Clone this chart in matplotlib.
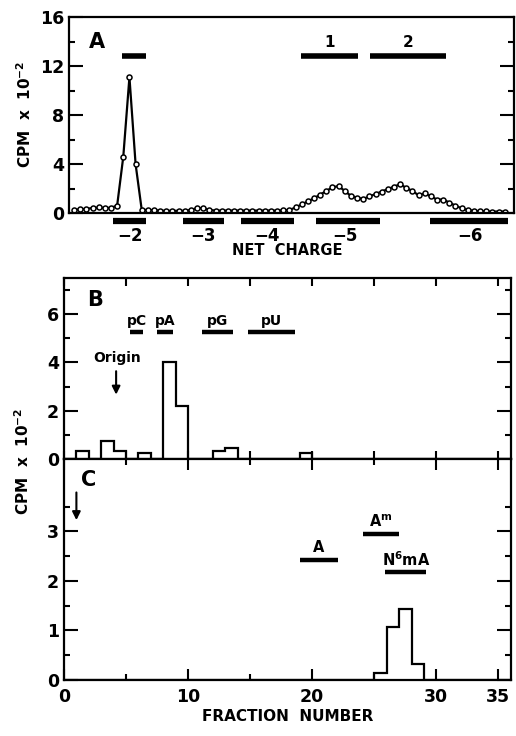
import numpy as np
import matplotlib
matplotlib.use("Agg")
import matplotlib.pyplot as plt
from matplotlib.ticker import MultipleLocator, FixedLocator

plt.rcParams['font.family'] = ['DejaVu Sans']
plt.rcParams['font.weight'] = 'bold'
plt.rcParams['mathtext.default'] = 'bf'

# ---- panel A: charge separation profile (one point per fraction)
cpm_a = [0.27, 0.30, 0.35, 0.40, 0.45, 0.42, 0.42, 0.60, 4.6, 11.1,
         4.0, 0.25, 0.25, 0.22, 0.20, 0.18, 0.18, 0.18, 0.18, 0.25,
         0.40, 0.40, 0.25, 0.20, 0.20, 0.20, 0.20, 0.20, 0.20, 0.20,
         0.20, 0.20, 0.20, 0.20, 0.22, 0.25, 0.45, 0.70, 0.95, 1.20,
         1.50, 1.80, 2.10, 2.20, 1.80, 1.40, 1.25, 1.15, 1.35, 1.55,
         1.75, 1.95, 2.15, 2.35, 2.05, 1.80, 1.45, 1.60, 1.35, 1.10,
         1.10, 0.85, 0.60, 0.38, 0.25, 0.18, 0.15, 0.13, 0.12, 0.12, 0.12]
frac_a = np.arange(1, len(cpm_a) + 1)

charge_labels = ['\u22122', '\u22123', '\u22124', '\u22125', '\u22126']
charge_label_x = [10.1, 22.0, 32.3, 45.0, 65.3]
charge_bars = [(7.3, 12.7), (18.7, 25.4), (28.1, 36.7), (40.3, 50.7), (58.8, 71.5)]
peak_bars = [(8.8, 12.7), (37.9, 47.1), (49.1, 61.4)]
peak_labels = ['', '1', '2']

# ---- panel B: nucleotides
edges = np.arange(0, 37)
cpm_b = np.zeros(36)
b_bins = [1, 3, 4, 6, 8, 9, 12, 13, 19]
b_vals = [0.33, 0.75, 0.35, 0.25, 4.0, 2.2, 0.33, 0.45, 0.25]
cpm_b[b_bins] = b_vals
nuc_labels = ['pC', 'pA', 'pG', 'pU']
nuc_bars = [(5.3, 6.4), (7.5, 8.8), (11.1, 13.6), (14.8, 18.6)]

# ---- panel C: nucleosides
cpm_c = np.zeros(36)
c_bins = [25, 26, 27, 28]
c_vals = [0.14, 1.07, 1.43, 0.33]
cpm_c[c_bins] = c_vals
ns_labels = ['A', 'A$^{m}$', 'N$^{6}$mA']
ns_bars = [(19.0, 22.1), (24.1, 27.0), (25.9, 29.2)]
ns_bar_y = [2.42, 2.94, 2.18]

fig = plt.figure(figsize=(5.16, 7.36), dpi=100)
axA = fig.add_axes([0.134, 0.7106, 0.862, 0.266])
axB = fig.add_axes([0.124, 0.3764, 0.866, 0.246])
axC = fig.add_axes([0.124, 0.0761, 0.866, 0.3003])

for ax in (axA, axB, axC):
    for s in ax.spines.values():
        s.set_linewidth(1.6)
    ax.tick_params(which='both', direction='in', width=1.5, labelsize=12.5,
                   left=True, right=True)
    ax.tick_params(which='major', length=10)
    ax.tick_params(which='minor', length=4)

# panel A
axA.plot(frac_a, cpm_a, '-o', color='k', lw=1.6, ms=3.6, mfc='white', mec='k', mew=1.1)
axA.set_xlim(0.2, 72.5)
axA.set_ylim(0, 16)
axA.yaxis.set_major_locator(MultipleLocator(4))
axA.yaxis.set_minor_locator(MultipleLocator(2))
axA.tick_params(axis='x', which='both', bottom=False, labelbottom=False)
for (x0, x1), lab in zip(charge_bars, charge_labels):
    axA.plot([x0, x1], [-0.68, -0.68], color='k', lw=4.5, solid_capstyle='butt', clip_on=False)
for x, lab in zip(charge_label_x, charge_labels):
    axA.text(x, -1.85, lab, ha='center', va='center', fontsize=12, fontweight='bold', clip_on=False)
for (x0, x1), lab in zip(peak_bars, peak_labels):
    axA.plot([x0, x1], [12.8, 12.8], color='k', lw=4, solid_capstyle='butt')
    if lab:
        axA.text((x0 + x1) / 2, 13.9, lab, ha='center', va='center', fontsize=11, fontweight='bold')
axA.text(4.7, 14.0, 'A', ha='center', va='center', fontsize=15, fontweight='bold')
fig.text(0.556, 0.659, 'NET  CHARGE', ha='center', va='center', fontsize=10.5, fontweight='bold')
fig.text(0.048, 0.845, 'CPM  x  10$^{-2}$', rotation=90, ha='center', va='center',
         fontsize=11, fontweight='bold')

# panel B
axB.stairs(cpm_b, edges, color='k', lw=1.6)
axB.set_xlim(0, 36)
axB.set_ylim(0, 7.5)
axB.yaxis.set_major_locator(MultipleLocator(2))
axB.yaxis.set_minor_locator(MultipleLocator(1))
axB.xaxis.set_major_locator(MultipleLocator(5))
axB.tick_params(axis='x', which='both', top=True, bottom=True, labelbottom=False, length=6)
for (x0, x1), lab in zip(nuc_bars, nuc_labels):
    axB.plot([x0, x1], [5.26, 5.26], color='k', lw=3.2, solid_capstyle='butt')
    axB.text((x0 + x1) / 2, 5.72, lab, ha='center', va='center', fontsize=10, fontweight='bold')
axB.annotate('', xy=(4.2, 2.55), xytext=(4.2, 3.75),
             arrowprops=dict(arrowstyle='-|>', color='k', lw=1.5, mutation_scale=12))
axB.text(4.3, 4.2, 'Origin', ha='center', va='center', fontsize=10, fontweight='bold')
axB.text(2.5, 6.6, 'B', ha='center', va='center', fontsize=15, fontweight='bold')

# panel C
axC.stairs(cpm_c, edges, color='k', lw=1.6)
axC.set_xlim(0, 36)
axC.set_ylim(0, 4.46)
axC.yaxis.set_major_locator(FixedLocator([0, 1, 2, 3]))
axC.yaxis.set_minor_locator(FixedLocator([0.5, 1.5, 2.5, 3.5]))
axC.set_xticks([0, 10, 20, 30, 35])
axC.set_xticks([5, 15, 25], minor=True)
axC.tick_params(axis='x', which='both', top=True)
axC.tick_params(axis='x', which='major', length=8, pad=6)
for (x0, x1), lab, y in zip(ns_bars, ns_labels, ns_bar_y):
    axC.plot([x0, x1], [y, y], color='k', lw=3.2, solid_capstyle='butt')
    axC.text((x0 + x1) / 2, y + 0.25, lab, ha='center', va='center', fontsize=10.5, fontweight='bold')
axC.annotate('', xy=(1.0, 3.17), xytext=(1.0, 3.84),
             arrowprops=dict(arrowstyle='-|>', color='k', lw=1.5, mutation_scale=12))
axC.text(1.95, 4.04, 'C', ha='center', va='center', fontsize=15, fontweight='bold')
axC.set_xlabel('FRACTION  NUMBER', fontsize=11, fontweight='bold', labelpad=2)
fig.text(0.043, 0.373, 'CPM  x  10$^{-2}$', rotation=90, ha='center', va='center',
         fontsize=11, fontweight='bold')

fig.savefig('out.png', dpi=100)
